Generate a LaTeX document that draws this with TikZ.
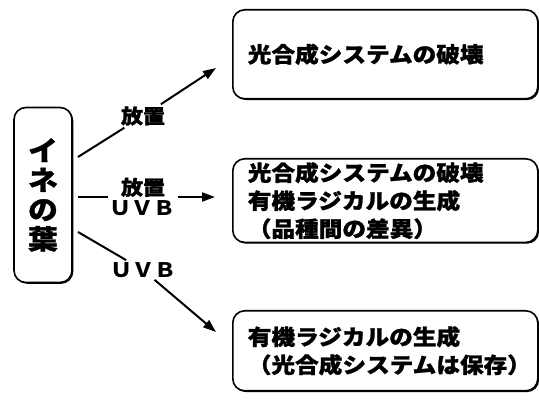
\documentclass[tikz,border=0pt]{standalone}
\usepackage{fontspec}
\newfontfamily\jp[FakeStretch=1.1,BoldFeatures={FakeBold=1.2}]{Noto Sans CJK JP}
\newfontfamily\latinjp[FakeStretch=1.1]{Noto Sans CJK JP}
\usetikzlibrary{arrows.meta,shadows}
\begin{document}
\begin{tikzpicture}[x=1pt,y=-1pt,
  box/.style={draw, line width=1.6pt, rounded corners=12pt, fill=white,
    drop shadow={shadow xshift=1.3pt, shadow yshift=-1.3pt, fill=black, opacity=1},
    inner xsep=15pt, text width=275pt, align=left, anchor=north west,
    font=\jp\bfseries\fontsize{21.5}{28}\selectfont},
  leafbox/.style={draw, line width=1.6pt, rounded corners=12pt, fill=white,
    drop shadow={shadow xshift=1.3pt, shadow yshift=-1.3pt, fill=black, opacity=1},
    minimum width=58pt, minimum height=175pt, align=center,
    font=\jp\bfseries\fontsize{27}{29.5}\selectfont},
  lab/.style={inner sep=2pt, align=center, font=\jp\bfseries\fontsize{20}{21}\selectfont},
  conn/.style={line width=2pt, -{Triangle[length=13pt,width=9pt]}}
]
\useasboundingbox (0,0) rectangle (539,403);

\node[leafbox] (leaf) at (43,195) {イ\\ネ\\の\\葉};

\node[box, minimum height=89pt] (b1) at (232,9) {光合成システムの破壊};
\node[box, minimum height=83pt] (b2) at (232,158) {光合成システムの破壊\\有機ラジカルの生成\\（品種間の差異）};
\node[box, minimum height=80pt] (b3) at (232,310) {有機ラジカルの生成\\（光合成システムは保存）};

\coordinate (a1s) at (78,157);
\coordinate (a1e) at (216,68);
\node[lab] (l1) at (143,116) {放置};
\draw[conn] (a1s) -- (l1) -- (a1e);

\coordinate (a2s) at (78,197);
\coordinate (a2e) at (215,197);
\node[lab] (l2) at (143,197) {放置\\{\latinjp\bfseries ＵＶＢ}};
\draw[conn] (a2s) -- (l2) -- (a2e);

\coordinate (a3s) at (78,232);
\coordinate (a3e) at (216,332);
\node[lab] (l3) at (143,270) {\latinjp\bfseries ＵＶＢ};
\draw[conn] (a3s) -- (l3) -- (a3e);
\end{tikzpicture}
\end{document}
